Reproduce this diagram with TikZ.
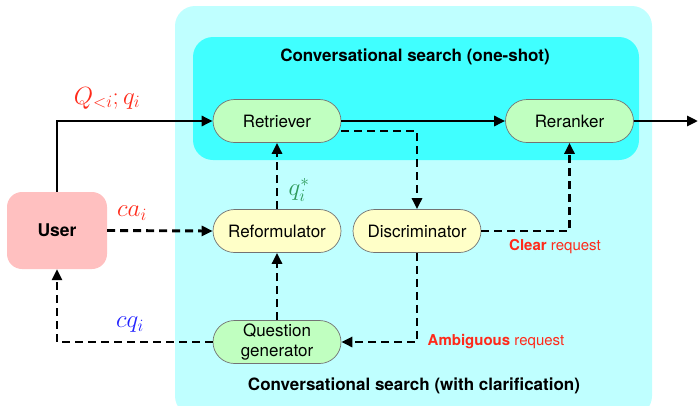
\documentclass[tikz,border=0pt]{standalone}
\usepackage{fontspec}
\setsansfont{TeX Gyre Heros}
\usetikzlibrary{arrows.meta,shapes.misc}
\definecolor{outerbg}{HTML}{BFFFFF}
\definecolor{innerbg}{HTML}{40FFFF}
\definecolor{gnode}{HTML}{C0FFC0}
\definecolor{ynode}{HTML}{FFFFC8}
\definecolor{unode}{HTML}{FFC0C0}
\definecolor{lred}{HTML}{FF2A1A}
\definecolor{lgreen}{HTML}{2E9A5A}
\definecolor{lblue}{HTML}{2222FF}
\tikzset{
  mod/.style={rounded rectangle, draw=black!55, line width=0.7pt, minimum width=130pt, minimum height=43pt, inner sep=1pt, font=\sffamily\fontsize{17}{19}\selectfont, align=center},
  gmod/.style={mod, fill=gnode},
  ymod/.style={mod, fill=ynode},
  flow/.style={line width=2.9pt, -{Triangle[length=11pt,width=10pt]}},
  dflow/.style={flow, dash pattern=on 8pt off 5pt},
  mlab/.style={font=\fontsize{27}{29}\selectfont},
  rlab/.style={text=lred, font=\sffamily\fontsize{15}{16}\selectfont},
  ttl/.style={font=\sffamily\bfseries\fontsize{17}{18}\selectfont}
}
\begin{document}
\begin{tikzpicture}[x=1pt,y=-1pt]
\useasboundingbox (0,0) rectangle (698,405);
\fill[outerbg, rounded corners=20pt] (175,6) rectangle (652,416);
\fill[innerbg, rounded corners=20pt] (193,37) rectangle (639,160);
\node[ttl] (t1) at (415,57) {Conversational search (one-shot)};
\node[ttl] (t2) at (414,386) {Conversational search (with clarification)};

\node[gmod] (ret) at (277,121) {Retriever};
\node[gmod] (rer) at (569.5,121) {Reranker};
\node[ymod] (ref) at (277,231) {Reformulator};
\node[ymod] (dis) at (417,231) {Discriminator};
\node[gmod, font=\sffamily\fontsize{17}{19.5}\selectfont] (qg) at (277,342) {Question\\generator};
\node[fill=unode, rounded corners=15pt, minimum width=100pt, minimum height=77pt, font=\sffamily\bfseries\fontsize{17.5}{19}\selectfont] (user) at (57,230.5) {User};
\coordinate (out) at (698,121);
\coordinate (uc) at (57,121);
\coordinate (ql) at (57,342);

\draw[flow] (user.north) -- (uc) -- (ret.west);
\draw[flow] (ret.east) -- (rer.west);
\draw[flow] (rer.east) -- (out);
\draw[dflow] (ret.east |- 0,131) -| (dis.north);
\draw[dflow] (user.east) -- (ref.west);
\draw[dflow] (ref.north) -- (ret.south);
\draw[dflow] (qg.north) -- (ref.south);
\draw[dflow] (dis.east) -| (rer.south);
\draw[dflow] (dis.south) |- (qg.east);
\draw[dflow] (qg.west) -- (ql) -- (user.south);

\node[mlab, text=lred] (l1) at (107,98) {$Q_{<i};q_i$};
\node[mlab, text=lred] (l2) at (132,213) {$ca_i$};
\node[mlab, text=lblue] (l3) at (130,325) {$cq_i$};
\node[mlab, text=lgreen] (l4) at (299,190) {$q_i^*$};
\node[rlab] (l5) at (555,247) {\textbf{Clear} request};
\node[rlab] (l6) at (496,342) {\textbf{Ambiguous} request};
\end{tikzpicture}
\end{document}
